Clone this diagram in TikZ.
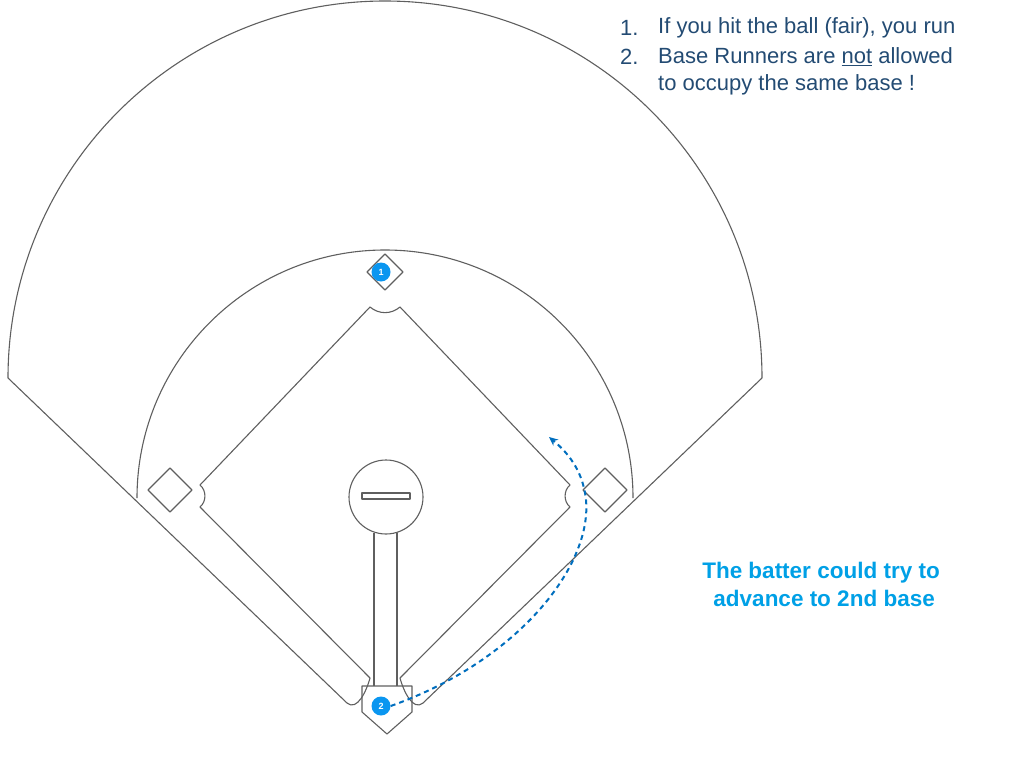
\documentclass[tikz,border=0pt]{standalone}
\usepackage{fontspec}
\setmainfont{Liberation Sans}
\usetikzlibrary{arrows.meta}
\definecolor{fld}{RGB}{95,95,95}
\definecolor{dk}{RGB}{35,75,115}
\definecolor{lb}{RGB}{0,160,230}
\definecolor{arr}{RGB}{0,110,190}
\definecolor{ball}{RGB}{10,150,240}
\begin{document}
\begin{tikzpicture}[x=1pt,y=-1pt,
  fl/.style={draw=fld,line width=1.1pt,line join=round},
  num/.style={circle,fill=ball,text=white,inner sep=0pt,minimum size=19pt,font=\fontsize{9}{9}\selectfont\bfseries},
  txt/.style={text=dk,font=\fontsize{22}{28}\selectfont,anchor=west,inner sep=0pt}]
\useasboundingbox (0,0) rectangle (1024,768);
% outfield arc and foul lines
\draw[fl] (8,378) arc[start angle=180,end angle=360,radius=377];
\draw[fl] (8,378) -- (347,703) to[out=-40,in=-105] (370,678);
\draw[fl] (762,378) -- (423,703) to[out=-140,in=-75] (400,678);
% infield arc
\draw[fl] (137,498) arc[start angle=180,end angle=360,radius=248];
% baselines with notches
\draw[fl] (370,678) -- (200,507) to[out=40,in=-40] (200,485) -- (370,307) to[out=-40,in=-140] (400,307) -- (570,485) to[out=-140,in=140] (570,507) -- (400,678);
% bases
\draw[fl] (385,254) -- (403,272) -- (385,290) -- (367,272) -- cycle;
\draw[fl] (170,468) -- (192,490) -- (170,512) -- (148,490) -- cycle;
\draw[fl] (605,468) -- (627,490) -- (605,512) -- (583,490) -- cycle;
% home plate
\draw[fl] (362,686) -- (412,686) -- (412,712) -- (387,734) -- (362,712) -- cycle;
% mound and path
\draw[fl] (386,497) circle[radius=37];
\draw[fl] (362,493) rectangle (410,499);
\draw[fl] (374,533) -- (374,686);
\draw[fl] (397,533) -- (397,686);
% runners
\node[num] (r1) at (381,272) {1};
\node[num] (r2) at (381,706) {2};
\coordinate (tip) at (549,437);
\draw[arr,line width=2pt,dash pattern=on 5pt off 4pt,-{Stealth[length=9pt,width=8pt]}]
  (r2.east) .. controls (520,660) and (592,565) .. (586,500) .. controls (583,470) and (567,452) .. (tip);
% texts
\node[txt] (t1) at (620,28) {1.};
\node[txt] (t2) at (620,57) {2.};
\node[txt] (a1) at (658,28) {If you hit the ball (fair), you run};
\node[txt] (a2) at (658,57) {Base Runners are \underline{not} allowed};
\node[txt] (a3) at (658,85) {to occupy the same base !};
\node[text=lb,font=\fontsize{22.5}{28}\selectfont\bfseries,align=center] (bt) at (821,584) {The batter could try to\\ \ advance to 2nd base};
\end{tikzpicture}
\end{document}
